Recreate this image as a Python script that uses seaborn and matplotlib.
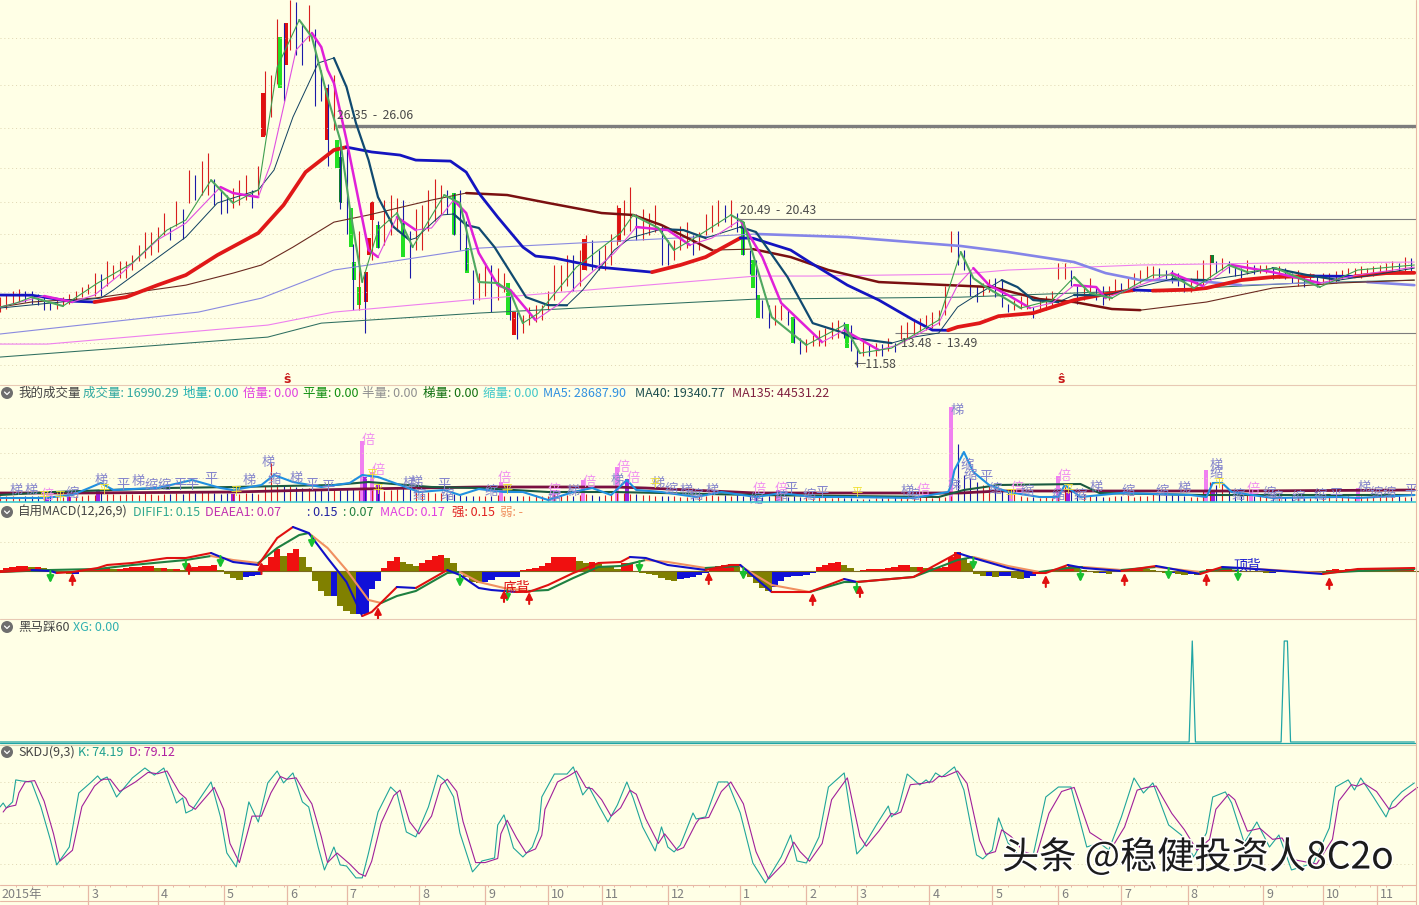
#recreate stock chart: candles + volume + MACD + XG + SKDJ panels
import numpy as np
import matplotlib
matplotlib.use('Agg')
import matplotlib.pyplot as plt
import matplotlib.patheffects as pe
from matplotlib.lines import Line2D
from matplotlib.patches import Ellipse
import seaborn as sns

# ---- price panel data (session number, price) ----
wick_high = [15.7,15.9,16.1,16.2,16.1,16.1,15.9,15.7,15.4,15.5,15.7,15.9,16.1,16.3,16.5,
    17.2,17.1,17.9,17.7,17.9,17.9,18.3,18.9,19.7,19.7,20.0,20.9,20.0,21.6,21.1,23.5,
    23.2,24.1,24.6,23.0,22.3,22.0,22.4,22.9,23.2,22.3,23.8,
    29.6,29.4,32.8,32.6,34,33.9,32.5,33.7,32.2,29.7,28.8,29.4,
    25.4,24.8,19.0,19.8,17.2,21.6,20.4,21.7,22.0,21.8,21.7,19.8,
    21.1,21.4,22.3,23.0,22.6,22.3,22.1,22.3,20.4,17.4,17.2,
    17.7,17.7,17.5,17.2,15.8,14.8,14.6,15.1,15.2,15.2,16.1,17.7,17.7,
    18.3,18.3,18.6,19.5,19.2,18.6,18.9,19.6,21.4,21.7,22.5,
    20.8,21.1,20.9,21.4,20.1,19.2,19.2,20.1,20.3,19.5,19.7,
    20.8,21.4,21.7,21.4,21.7,20.9,20.3,18.6,18.0,
    15.5,15.2,15.2,15.2,14.9,14.4,13.2,13.1,13.4,13.7,
    13.8,14.2,14.3,14.2,14.0,12.6,13.1,12.8,12.9,12.8,13.2,12.9,14.0,
    14.2,14.3,14.4,14.6,14.8,14.9,16.4,19.8,19.8,18.6,
    17.4,16.4,16.6,16.8,16.9,16.8,15.3,15.5,15.8,15.8,15.1,15.5,
    15.8,16.1,17.8,17.8,17.4,16.4,16.4,16.9,16.4,16.4,16.4,
    16.8,16.6,16.9,17.2,17.4,17.6,17.6,17.5,17.4,17.4,17.2,
    16.8,16.9,17.4,18.0,18.3,17.9,18.1,17.9,17.7,17.5,18.0,
    17.7,17.7,17.7,17.5,17.6,17.5,17.2,17.4,17.1,17.2,17.0,
    17.2,17.2,17.3,17.4,17.5,17.5,17.6,17.5,17.6,17.7,17.8,17.9,17.8,18.2,18.1]
wick_low = [14.8,15.0,15.3,15.4,15.4,15.3,15.2,14.9,14.9,15.0,15.2,15.3,15.5,15.7,15.9,
    15.8,15.8,16.4,16.8,16.9,16.9,17.4,17.9,18.1,18.3,18.5,19.5,19.2,20.1,19.3,21.5,
    21.7,22.0,22.0,21.4,20.8,20.9,21.2,21.4,21.7,21.2,22.0,
    25.7,26.8,28.8,27.8,30.9,30.6,30.0,31.5,27.5,27.8,23.8,26.0,
    21.1,19.6,14.9,14.9,13.5,18.0,18.7,18.9,19.5,19.8,19.5,16.9,
    18.6,18.6,19.8,20.4,20.8,20.8,19.5,18.6,17.4,15.3,15.5,
    15.8,14.8,15.5,16.0,14.3,13.1,13.5,14.0,14.2,14.3,14.9,15.5,16.1,
    16.4,16.1,16.4,17.4,17.4,17.4,17.4,17.7,18.9,19.5,19.8,
    19.2,19.2,19.5,19.7,17.7,17.7,18.0,18.6,18.7,18.3,18.6,
    19.5,19.7,20.1,20.3,20.0,19.7,18.3,17.1,15.6,
    14.4,13.8,14.0,14.3,14.0,12.9,12.2,12.3,12.7,12.7,
    12.7,13.1,13.2,13.2,12.4,11.4,12.1,12.1,12.1,12.1,12.4,12.3,13.1,
    13.1,13.4,13.6,13.7,13.8,14.0,14.6,18.5,17.7,17.4,
    15.8,15.4,15.8,16.0,15.7,15.1,14.8,14.9,15.0,15.0,14.4,14.8,
    14.9,15.2,16.8,16.8,16.4,15.3,15.5,15.7,15.5,15.2,15.5,
    16.0,16.0,16.1,16.4,16.6,16.9,16.9,16.9,16.8,16.6,16.4,
    16.0,16.0,16.4,16.4,16.9,17.2,17.4,17.2,17.0,16.9,17.1,
    17.1,17.2,17.2,16.8,16.9,16.8,16.6,16.4,16.3,16.6,16.3,
    16.6,16.6,16.6,16.8,16.9,17.0,16.9,17.0,17.0,17.1,17.1,17.2,17.2,17.3,17.3]

body_session = [83.5,90.8,103.8,116.2,118.1,117.1,161.3 + 1.9,185.4,196.5,
    88.9,107,111.4,112.4,114,120,127.9,144.1,148.3,161.3,235.9,239,240.6,251.7,268.9,
    108,384.8]
body_top = [28.27,32.58,28.58,17.24,21.56,19.34,14.78,19.28,21.19,
    31.72,25.38,21.19,17.86,16.32,20.14,20.26,22.11,18.72,16.57,20.32,17.98,15.83,14.47,14.04,
    24.33,18.29]
body_bottom = [25.56,30.0,25.38,15.4,20.45,18.29,13.36,17.37,19.09,
    28.58,23.65,18.78,16.75,15.21,18.72,18.17,19.52,17.18,14.6,18.29,16.26,14.41,12.87,12.56,
    21.5,17.8]
body_kind = ['r'] * 9 + ['g'] * 15 + ['d'] * 2

ma5_day = [0,5,10,20,31,42,53,59,67,74,82,88,95,99,104,108,111,115,120,126,131,141,146,152,158,162,166,171,183,197,201,209,214,221,232,236,245,256,268,273,283,298,305,309,313,320,324,334,341,346,353,366,372,379,390,396,405,414,419,431,449]
ma5 = [15.09,15.33,15.70,15.15,16.57,17.80,19.83,20.45,22.91,21.50,22.30,29.87,32.77,31.72,28.02,25.38,21.25,16.63,19.83,20.88,18.78,21.99,21.50,16.63,16.57,16.01,14.10,14.72,17.55,19.65,20.76,19.96,18.60,19.40,20.76,20.32,14.47,12.75,13.98,12.25,12.56,14.29,18.48,16.87,16.32,15.52,15.03,15.52,16.94,15.95,15.64,17.06,17.06,16.26,17.68,17.24,17.49,16.75,16.32,17.37,17.68]

ma10_day = [0,14,23,30,39,50,59,66,70,74,82,86,90,94,99,102,104,106,110,113,117,120,126,132,137,144,148,152,158,162,170,177,184,195,202,212,219,226,235,242,248,261,268,279,285,298,304,309,314,320,327,334,341,348,351,362,372,382,391,404,419,431,449]
ma10 = [15.09,15.77,15.40,15.83,17.24,19.22,20.26,21.68,22.48,22.11,21.86,23.96,27.41,30.92,31.97,31.10,29.69,28.89,25.38,22.48,18.60,18.17,20.63,19.83,19.96,21.68,20.88,18.42,16.44,16.14,14.29,15.21,16.57,18.42,20.02,19.83,18.91,19.34,20.45,18.17,15.34,12.93,13.67,12.44,12.75,14.10,16.44,17.49,16.44,15.83,15.03,15.34,16.44,16.32,15.64,16.44,17.18,16.38,17.68,17.24,16.57,17.06,17.55]

ma20_day = [0,32,36,59,69,82,87,93,101,106,110,113,117,120,125,130,132,140,144,148,152,157,161,167,174,180,185,195,200,210,217,224,235,240,250,258,267,271,283,290,298,304,310,318,323,328,336,341,351,364,372,383,394,404,415,425,436,449]
ma20 = [15.03,15.64,16.14,19.40,21.50,22.30,23.53,26.79,30.12,30.43,28.64,26.42,24.14,21.86,20.02,19.22,19.34,20.76,20.82,20.14,19.96,18.78,17.55,15.70,15.21,15.20,16.14,18.60,19.34,19.89,19.83,19.34,20.02,19.71,16.94,14.10,13.55,13.18,12.87,13.24,13.49,15.09,15.83,16.75,16.32,15.52,15.40,15.83,15.82,16.44,16.81,16.75,17.06,17.49,17.06,16.75,17.06,17.49]

ma60_day = [0,10,16,22,30,40,50,59,69,82,90,97,106,110,118,127,132,143,148,152,158,166,170,176,190,207,216,224,235,239,251,257,269,279,290,296,301,304,311,317,328,341,351,360,366,378,383,394,404,417,430,440,449]
ma60 = [15.83,15.82,15.64,15.46,15.40,15.70,16.44,17.06,18.29,19.65,21.37,23.40,24.76,24.94,24.64,24.45,24.14,24.08,23.40,22.11,20.63,18.78,18.23,18.11,17.55,17.24,17.68,18.17,19.34,19.33,18.60,17.86,16.44,15.52,14.29,13.67,13.66,13.86,14.10,14.53,14.72,15.52,15.89,16.14,16.10,16.16,16.26,16.75,16.94,17.0,16.98,17.18,17.2]

ma120_day = [0,10,30,59,74,83,93,106,117,137,148,161,174,191,201,210,226,239,251,263,279,301,315,330,341,353,362,383,404,425,449]
ma120 = [15.09,15.4,15.64,16.44,17.18,17.68,18.78,20.32,20.76,21.68,22.11,21.99,21.5,20.88,20.76,20.14,18.6,18.66,18.17,17.37,16.63,16.44,16.32,15.58,15.4,14.97,14.9,15.4,16.26,16.57,16.75]

ma250_day = [0,63,83,106,117,152,240,269,305,320,341,351,362,378,394,415,434,449]
ma250 = [13.43,14.78,15.64,17.37,17.68,18.72,19.59,19.40,18.85,18.48,17.86,17.18,16.75,16.74,16.44,16.57,16.63,16.44]

pink_day = [0,15,85,106,152,240,258,305,320,362,404,449]
pink_ma = [12.81,12.81,13.98,14.78,15.58,17.0,17.0,17.12,17.37,17.68,17.8,17.86]

green_day = [0,85,102,152,240,305,349,381,413,449]
green_ma = [12.01,13.24,14.10,14.72,15.58,15.70,16.01,16.26,16.57,16.75]

price_grid = [31.66,28.77,26.12,23.66,21.56,19.6,17.81,16.02,14.42,12.88,11.53]
level_start = [107,234,284]
level_price = [26.24,20.51,13.49]
level_width = [2.4,0.8,0.8]
s_marks = [91,337]

# ---- volume panel (thousands) ----
volume = [30,30,30,25,30,30,30,25,30,30,25,30,30,30,35,
    35,45,40,40,35,40,40,35,45,40,35,40,40,45,40,50,
    45,55,50,45,40,45,40,40,45,45,40,
    80,195,90,85,80,75,70,70,65,60,55,60,
    60,65,70,60,65,60,60,55,60,65,70,65,
    60,55,50,45,45,40,40,35,30,30,30,
    30,30,35,30,30,30,30,30,35,30,30,40,35,
    35,30,35,40,35,30,35,40,45,45,40,
    40,35,35,30,30,30,30,25,25,25,30,
    30,35,30,35,30,35,30,30,30,
    25,30,35,30,25,30,25,25,20,25,
    25,20,25,20,20,15,15,15,20,20,20,25,25,
    25,20,25,25,20,25,25,30,290,135,
    120,100,85,80,70,65,55,40,30,25,25,20,
    25,20,30,90,60,35,40,35,30,25,25,
    30,30,35,25,30,30,40,45,40,35,35,
    30,25,25,60,100,85,90,60,30,40,35,
    30,30,25,30,25,25,30,25,20,20,20,
    25,25,30,25,30,25,30,25,25,30,30,35,30,25,25]
double_day = [115,118,159,176,185,196,240,247,302,321,336,383,397,431]
double_vol = [305,150,100,60,110,175,50,60,475,40,130,160,60,70]
purple_day = [15,22,31,74,116,120,199,339,385]
purple_vol = [25,25,60,40,125,85,115,45,60]

vol_ma5_day = [0,14,23,32,36,42,50,61,70,74,83,87,93,102,111,115,120,127,133,141,146,152,160,166,174,182,188,194,199,202,210,221,229,240,248,258,269,290,301,302,303,306,309,314,320,330,336,338,343,356,378,383,385,388,391,404,425,431,449]
vol_ma5 = [20,20,35,95,60,65,70,110,70,60,85,135,100,75,95,135,125,85,50,60,35,65,50,50,10,50,70,35,110,60,50,25,50,25,45,25,25,20,50,85,160,250,150,85,50,25,25,85,25,45,35,25,95,95,50,20,25,20,35]
vol_ma40_day = [0,17,53,74,106,117,137,152,174,195,240,298,306,317,343,349,381,449]
vol_ma40 = [35,50,70,75,85,100,75,70,50,50,35,25,60,85,90,45,35,35]
vol_ma135_day = [0,25,74,114,152,195,205,240,305,317,394,449]
vol_ma135 = [45,45,50,65,75,75,70,45,45,55,55,60]
vol_grid = [370,245,120]

vol_label_day = [5,10,15,23,32,39,44,48,52,57,61,67,79,85,87,94,99,104,117,120,130,132,133,141,142,156,160,176,176,182,187,196,198,201,209,213,218,221,226,241,240,248,248,251,257,261,288,290,293,304,303,307,308,313,316,323,326,336,338,343,348,358,369,376,386,386,393,398,403,405,412,419,424,433,437,441,448]
vol_label_val = [60,60,35,40,110,80,105,80,80,85,85,110,110,200,110,120,85,75,310,160,95,100,35,85,35,50,120,60,20,55,100,110,175,120,95,60,60,35,60,65,10,65,25,60,35,45,55,35,60,460,85,185,135,120,60,70,50,30,130,35,75,55,50,70,185,145,35,65,40,20,20,30,35,75,45,45,55]
vol_label_txt = list('梯梯倍缩梯平梯缩缩平平平梯梯缩梯平平倍倍梯梯缩平缩缩倍倍缩梯倍梯倍倍梯缩梯缩梯倍缩倍缩平缩平梯缩倍梯梯缩缩平缩倍缩缩倍缩梯缩缩梯梯缩缩倍缩缩缩缩平梯缩缩平')
flat_day = [14,19,33,75,118,120,161,208,272,321,339,387]
flat_val = [25,25,60,50,135,60,60,90,45,35,60,90]

# ---- MACD panel ----
dif_day = [0,10,16,18,23,31,34,42,53,59,67,74,82,88,93,98,104,110,115,118,126,132,142,146,152,156,164,168,174,182,190,197,200,205,212,224,232,235,245,257,268,272,290,304,309,320,328,332,339,344,356,367,381,388,394,420,431,449]
dif = [-.05,.05,0,-.1,-.05,.15,.3,.4,.65,.65,.9,.45,.3,1.65,2.2,1.9,.65,-.55,-2.25,-2.05,-.8,-.85,.05,-.2,-.85,-.95,-1.05,-1.04,-.7,-.1,.4,.45,.7,.65,.3,.05,.3,.3,-1.05,-1.05,-.4,-.55,-.3,.9,.65,.15,-.1,-.1,.3,.15,0,.25,-.15,.2,.15,-.15,.1,.15]
dea_day = [0,16,31,42,59,67,74,82,88,95,98,104,110,117,121,126,132,142,146,152,160,168,174,182,190,197,205,212,224,235,245,257,268,272,290,304,309,320,330,339,344,356,367,381,388,394,420,431,449]
dea = [-.05,.05,.1,.3,.55,.75,.55,.4,1.15,1.8,1.9,1.15,.05,-1.45,-1.6,-1.25,-1.0,-.1,-.05,-.55,-.85,-1.0,-.95,-.35,.2,.25,.55,.45,.15,.25,-.7,-1.05,-.55,-.55,-.3,.55,.7,.25,-.05,.15,.2,.05,.2,-.05,.1,.15,-.1,0,.1]
macd_hist = [.05,.15,.2,.25,.25,.2,.2,.15,.1,0,-.1,-.15,-.15,-.05,.05,
    .1,.15,.15,.1,.1,.15,.2,.2,.25,.25,.15,.15,.1,.1,.05,.1,
    .2,.25,.25,.3,.05,-.15,-.35,-.45,-.3,-.25,-.2,
    .3,.7,1.1,.75,.9,1.1,.7,.2,-.5,-1,-1.25,-1.25,-1.75,-2,-2.15,-2.15,-2.15,-.9,-.5,.15,.5,.7,.45,.35,
    .25,.4,.55,.75,.8,.65,.4,-.1,-.3,-.55,-.6,-.55,-.45,-.3,-.3,-.3,-.3,
    .05,.1,.15,.25,.4,.7,.7,.7,.7,.5,.4,.45,.35,.25,.2,.1,.4,.4,
    -.05,-.1,-.15,-.2,-.35,-.45,-.5,-.4,-.35,-.3,-.2,-.1,.15,.25,.3,.35,.25,-.15,-.3,-.6,-.85,-1,-.8,-.5,-.3,-.25,-.25,-.2,-.1,.2,.3,.4,.45,.3,.15,0,.05,.1,.1,.1,.15,.2,.3,
    .3,.2,.2,.15,.15,.15,.2,.7,.95,.6,
    .4,-.15,-.25,-.25,-.3,-.25,-.25,-.35,-.4,-.35,-.25,-.15,-.05,.05,.1,.2,.25,.2,.05,-.05,-.1,-.1,-.15,-.05,0,.05,.1,.15,.1,.05,-.05,-.1,-.1,-.15,-.2,-.15,-.2,-.1,.1,.1,.1,.1,.05,0,-.05,-.05,
    -.05,-.1,-.1,-.05,-.05,-.05,-.1,-.1,-.05,-.05,0,.05,.1,.05,.1,.1,.05,.1,.1,.1,.05,.1,.1,.1,.15]
sell_day = [16,59,70,99,146,161,203,236,272,309,343,371,393]
sell_tip = [-.6,-.05,.15,1.15,-.8,-1.55,-.1,-.45,-1.2,.05,-.55,-.45,-.55]
buy_day = [23,60,83,120,160,168,225,258,273,332,357,383,422]
buy_tip = [-.1,.45,.45,-1.8,-.95,-1.05,-.05,-1.1,-.7,-.2,-.1,-.1,-.3]

# ---- XG panel ----
xg_day = [0,377.5,378.5,379.5,406.7,407.7,408.7,409.7,449]
xg = [0,0,1,0,0,1,1,0,0]

# ---- SKDJ panel ----
kdj_day = [0,1,2,4,5,7,10,13,16,18,
    22,25,29,31,32,34,37,42,46,49,
    52,56,58,59,61,67,70,72,75,79,
    82,85,88,90,93,96,98,101,103,106,
    108,110,113,115,117,120,124,126,129,132,
    136,139,141,144,146,150,153,157,158,160,
    163,166,169,171,172,176,180,182,185,187,
    190,193,196,199,201,204,208,210,212,214,
    216,220,221,224,228,231,235,239,243,248,
    251,253,256,260,263,268,272,274,278,282,
    283,285,288,292,294,295,297,299,303,306,
    310,312,315,317,320,324,328,332,336,340,
    345,349,352,356,360,363,366,371,375,379,
    383,385,389,391,395,399,403,406,410,417,
    422,424,428,430,432,436,440,442,445,449]
k_line = [61.7,64.6,61,65.4,81.5,80.7,80,61.7,37.6,19.3,
    32.4,71.9,80,84.4,81.5,83.6,69,82.9,90.2,85,
    90.2,64.6,68.3,57.3,59.5,80,54.4,28.1,17.8,65.4,
    50.7,79.3,88,79.3,86.6,65.4,61.7,32.4,15.6,32.4,
    19.3,18.5,9.8,9.8,28.1,58,76.3,71.9,43.4,39.8,
    61.7,85,81.5,69,42.7,14.2,22.2,24.4,48.5,55.9,
    31.7,25.1,32.4,44.9,69,85.8,85.8,91,70.5,76.3,
    63.2,50.7,63.2,80,68.3,47.1,29.5,47.1,32.4,28.8,
    33.9,57.3,52.9,54.4,80,80,57.3,20.7,6.1,25.1,
    41.2,22.2,20.7,39.8,76.3,86.6,27.3,32.4,47.8,62.4,
    54.4,58.8,85.8,77.8,81.5,79.3,86.6,83.6,91,74.1,
    26.6,23.7,30.2,53.7,35.4,24.4,26.6,69,76.3,76.3,
    32.4,35.4,30.2,54.4,82.9,71.9,79.3,48.5,41.2,25.1,
    42.7,69,72.7,64.6,35.4,50.7,32.4,41.2,15.6,20.7,
    46.3,76.3,81.5,74.1,82.9,69,54.4,65.4,72.7,79.3]
d_line = [58,61,62,63,72,80,81,66,42,22,
    30,62,77,81,82,82,73,80,87,86,
    88,72,68,63,60,76,60,35,21,55,
    55,72,84,82,83,71,64,40,21,28,
    24,20,13,11,22,50,70,74,51,42,
    55,78,82,73,51,21,21,24,42,52,
    39,28,31,41,60,80,85,88,76,75,
    67,55,61,74,71,53,35,42,36,30,
    32,50,53,54,73,80,64,29,9,21,
    36,29,22,35,67,83,40,33,44,57,
    56,58,78,79,80,80,84,84,88,79,
    37,27,29,45,40,29,26,57,73,76,
    43,37,32,47,74,76,77,57,45,30,
    38,60,71,67,44,46,38,39,23,20,
    38,66,78,77,79,73,60,62,69,76]
kdj_grid = [80,50,20]

month_day = [28,50,71,91,110,133,154,174,191,212,235,256,272,295,315,336,356,377,401,420,437]
month_label = ['3','4','5','6','7','8','9','10','11','12','1','2','3','4','5','6','7','8','9','10','11']

BG = '#FFFFE6'
W, H = 1419, 905
LAST_DAY = W / 3.15

sns.set_theme(style='white', rc={'figure.facecolor': BG, 'axes.facecolor': BG, 'savefig.facecolor': BG})
plt.rcParams['font.family'] = ['Noto Sans CJK SC', 'DejaVu Sans']
plt.rcParams['axes.unicode_minus'] = False

fig = plt.figure(figsize=(W / 100, H / 100), dpi=100)


def panel(top, bottom):
    a = fig.add_axes([0, 1 - bottom / H, 1, (bottom - top) / H])
    a.set_facecolor('none')
    return a


def line(ax, x, y, color, lw):
    sns.lineplot(x=list(x), y=list(y), ax=ax, color=color, linewidth=lw, estimator=None, sort=False,
                 legend=False, solid_joinstyle='round', solid_capstyle='round')


def two_tone(ax, x, y, up, down, up_lw, down_lw):
    # colour and weight follow the slope, like the trading software does
    x = np.array(x, dtype=float)
    y = np.array(y, dtype=float)
    rising = np.diff(y) >= 0
    start = 0
    for i in range(1, len(rising) + 1):
        if i == len(rising) or rising[i] != rising[start]:
            is_up = rising[start]
            line(ax, x[start:i + 1], y[start:i + 1], up if is_up else down, up_lw if is_up else down_lw)
            start = i


def finish(ax, ylim):
    ax.set_xlim(0, LAST_DAY)
    ax.set_ylim(*ylim)
    ax.set_axis_off()


def dotted(ax, levels):
    ax.hlines(levels, 0, 1416 / 3.15, colors='#dfd6b2', linewidth=0.7, linestyles=(0, (1, 3)))


def hline(row, color, lw=1.0):
    fig.add_artist(Line2D([0, 1416 / W], [1 - row / H] * 2, color=color, lw=lw))


def header(row, parts):
    fig.add_artist(Ellipse((7 / W, 1 - row / H), 12 / W, 12 / H, color='#6e6e6e', lw=0))
    fig.add_artist(Line2D([4.5 / W, 7 / W, 9.5 / W],
                          [1 - (row - 1) / H, 1 - (row + 1.5) / H, 1 - (row - 1) / H], color='white', lw=0.9))
    for px, txt, col in parts:
        fig.text(px / W, 1 - row / H, txt, color=col, fontsize=9, va='center', ha='left')


# main price panel
ax = panel(0, 385)
dotted(ax, price_grid)
for start, level, width in zip(level_start, level_price, level_width):
    ax.hlines(level, start, 1416 / 3.15, colors='#7d7d7d', linewidth=width)
wick_day = np.arange(len(wick_high)) * 2
mid = (np.array(wick_high) + np.array(wick_low)) / 2
wick_col = ['#d81e1e' if i == 0 or mid[i] >= mid[i - 1] else '#1a1aa8' for i in range(len(mid))]
ax.vlines(wick_day, wick_low, wick_high, colors=wick_col, linewidth=0.8)
line(ax, green_day, green_ma, '#2f6f60', 0.75)
line(ax, pink_day, pink_ma, '#ee80ee', 0.8)
two_tone(ax, ma250_day, ma250, '#8a8ae0', '#8585e8', 0.8, 1.9)
two_tone(ax, ma120_day, ma120, '#6a2a20', '#7a1010', 0.8, 1.8)
two_tone(ax, ma60_day, ma60, '#e01818', '#1414c0', 2.7, 2.0)
body_col = {'r': '#e01010', 'g': '#22e022', 'd': '#0f7f30'}
ax.bar(body_session, np.array(body_top) - np.array(body_bottom), bottom=body_bottom, width=1.05,
       color=[body_col[k] for k in body_kind], linewidth=0)
two_tone(ax, ma20_day, ma20, '#104060', '#104a70', 0.7, 1.6)
two_tone(ax, ma10_day, ma10, '#e050e0', '#e020d8', 0.8, 1.8)
two_tone(ax, ma5_day, ma5, '#3f9f4f', '#4fa860', 0.8, 1.5)
for day, txt, level in [(107, '26.35  -  26.06', 26.9), (235, '20.49  -  20.43', 21.05), (286, '13.48  -  13.49', 12.85), (271, '←11.58', 11.55)]:
    ax.text(day, level, txt, color='#4a4a4a', fontsize=8.8, va='center', ha='left')
for day in s_marks:
    ax.text(day, 10.65, 'ŝ', color='#c81818', fontsize=9, fontweight='bold', ha='center', va='center')
finish(ax, (10.29, 34.0))

# volume
ax = panel(385, 502)
dotted(ax, vol_grid)
ax.vlines(wick_day, 0, volume, colors=wick_col, linewidth=0.8)
ax.bar(double_day, double_vol, width=1.3, color='#f080f0', linewidth=0)
ax.bar(purple_day, purple_vol, width=1.3, color='#a020e0', linewidth=0)
line(ax, vol_ma135_day, vol_ma135, '#7a1040', 2.0)
line(ax, vol_ma40_day, vol_ma40, '#1a5a40', 1.5)
line(ax, vol_ma5_day, vol_ma5, '#2090e0', 1.5)
for day, val, txt in zip(vol_label_day, vol_label_val, vol_label_txt):
    ax.text(day, val, txt, color='#f090f0' if txt == '倍' else '#8585cc', fontsize=9.5, ha='center', va='center')
for day, val in zip(flat_day, flat_val):
    ax.text(day, val, '平', color='#f0e030', fontsize=8, ha='center', va='center')
finish(ax, (0, 585))

# MACD
ax = panel(503, 619)
dotted(ax, [1.45])
ax.axhline(0, color='#7a6a20', linewidth=0.8)
hist = np.array(macd_hist)
hist_col = []
for i, v in enumerate(hist):
    prev = hist[i - 1] if i else 0
    if v < prev:
        hist_col.append('#808000')
    elif v >= 0:
        hist_col.append('#f01010')
    else:
        hist_col.append('#1010d8')
ax.bar(wick_day, hist, width=2.0, color=hist_col, linewidth=0)
two_tone(ax, dea_day, dea, '#1e8040', '#f09060', 1.5, 1.5)
two_tone(ax, dif_day, dif, '#e01010', '#1010c8', 1.5, 1.5)
for day, tip in zip(sell_day, sell_tip):
    ax.annotate('', xy=(day, tip), xytext=(day, tip + 0.6),
                arrowprops=dict(arrowstyle='-|>', color='#18c030', lw=1.5, mutation_scale=10, shrinkA=0, shrinkB=0))
for day, tip in zip(buy_day, buy_tip):
    ax.annotate('', xy=(day, tip), xytext=(day, tip - 0.6),
                arrowprops=dict(arrowstyle='-|>', color='#e01010', lw=1.5, mutation_scale=10, shrinkA=0, shrinkB=0))
ax.text(164, -0.85, '底背', color='#e01010', fontsize=10, ha='center', va='center')
ax.text(396, 0.3, '顶背', color='#2020d0', fontsize=10, ha='center', va='center')
finish(ax, (-2.4, 3.4))

# black horse XG
ax = panel(619, 743)
line(ax, xg_day, xg, '#20a5a5', 0.9)
finish(ax, (-0.01, 1.218))

# SKDJ
ax = panel(743, 885)
dotted(ax, kdj_grid)
line(ax, kdj_day, k_line, '#20a59a', 0.8)
line(ax, np.array(kdj_day) + 1, d_line, '#a0209a', 0.8)
finish(ax, (4.6, 108.5))

# time axis
ax = panel(885, 905)
ax.vlines(month_day, 0, 1, colors='#e6b8a6', linewidth=0.9)
ax.vlines(np.arange(5, 450, 5), 0.88, 1, colors='#e6b8a6', linewidth=0.7)
ax.text(0.5, 0.55, '2015年', color='#7f7f7f', fontsize=9, va='center')
for day, lab in zip(month_day, month_label):
    ax.text(day + 1, 0.55, lab, color='#7f7f7f', fontsize=9, va='center')
finish(ax, (0, 1))

hline(385, '#e8c9b4', 0.8)
hline(502, '#40c8d0', 1.2)
hline(619, '#e8c9b4', 0.8)
hline(743, '#20a5a5', 0.9)
hline(745, '#d8d0b0', 0.8)
hline(885, '#e8b8a6', 0.8)
hline(901, '#e8b8a6', 0.8)
fig.add_artist(Line2D([1416 / W] * 2, [0, 1], color='#e8b8a6', lw=0.8))

header(393, [(18, '我的成交量', '#444444'), (83, '成交量: 16990.29', '#30a8a0'), (183, '地量: 0.00', '#20b0b0'),
             (243, '倍量: 0.00', '#e040e0'), (303, '平量: 0.00', '#109010'), (362, '半量: 0.00', '#909090'),
             (423, '梯量: 0.00', '#107010'), (483, '缩量: 0.00', '#40c8c8'), (543, 'MA5: 28687.90', '#3090e0'),
             (635, 'MA40: 19340.77', '#205050'), (732, 'MA135: 44531.22', '#802040')])
header(512, [(18, '自用MACD(12,26,9)', '#444444'), (133, 'DIFIF1: 0.15', '#30a890'), (205, 'DEAEA1: 0.07', '#c030b0'),
             (307, ': 0.15', '#2020a0'), (343, ': 0.07', '#208040'), (380, 'MACD: 0.17', '#e040e0'),
             (452, '强: 0.15', '#e02020'), (500, '弱: -', '#f09060')])
header(627, [(18, '黑马踩60', '#444444'), (73, 'XG: 0.00', '#30b0b0')])
header(752, [(18, 'SKDJ(9,3)', '#444444'), (78, 'K: 74.19', '#20a090'), (129, 'D: 79.12', '#b020a0')])

# watermark
fig.text(1002 / W, 1 - 858 / H, '头条 @稳健投资人8C2o', color='#1c1c1c', fontsize=26.8, va='center', ha='left',
         path_effects=[pe.withStroke(linewidth=2.2, foreground='white')])

fig.savefig('out.png', dpi=100)
